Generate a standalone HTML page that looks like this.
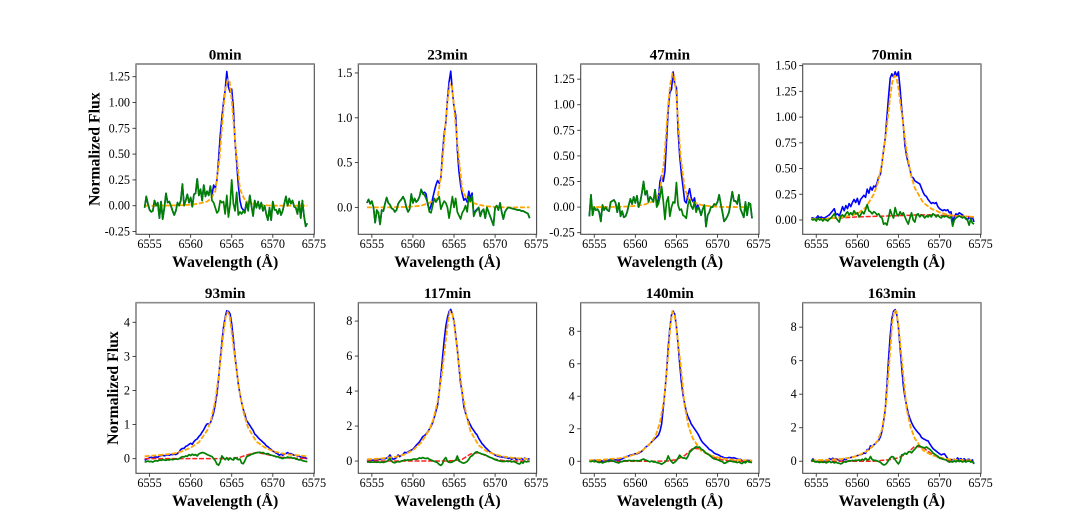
<!DOCTYPE html>
<html lang="en">
<head>
<meta charset="utf-8">
<title>Normalized flux spectra</title>
<style>
html,body{margin:0;padding:0;background:#fff;}
#figure{display:block;width:1090px;height:532px;font-family:"Liberation Serif",serif;filter:blur(0.3px);}
.tick{font-size:12.2px;fill:#000;}
.title{font-size:15.2px;font-weight:bold;fill:#000;text-anchor:middle;}
.xlab{font-size:15.9px;font-weight:bold;fill:#000;text-anchor:middle;}
.ylab{font-size:15.8px;font-weight:bold;fill:#000;text-anchor:middle;}
</style>
</head>
<body>
<svg id="figure" xmlns="http://www.w3.org/2000/svg" width="1090" height="532" viewBox="0 0 1090 532"></svg>
<script>
const panelTitles = ["0min","23min","47min","70min","93min","117min","140min","163min"];
const xTicks = [6555,6560,6565,6570,6575];
const xDomain = [6553.35,6575.05];
const yDomains = [[-0.277,1.373],[-0.3,1.6],[-0.266,1.398],[-0.139,1.516],[-0.43,4.575],[-0.7,9.05],[-0.74,9.76],[-0.72,9.46]];
const yTickLabels = [
 ["-0.25","0.00","0.25","0.50","0.75","1.00","1.25"],
 ["0.0","0.5","1.0","1.5"],
 ["-0.25","0.00","0.25","0.50","0.75","1.00","1.25"],
 ["0.00","0.25","0.50","0.75","1.00","1.25","1.50"],
 ["0","1","2","3","4"],
 ["0","2","4","6","8"],
 ["0","2","4","6","8"],
 ["0","2","4","6","8"]
];
const waveFine = [6554.4,6554.6,6554.8,6555.0,6555.2,6555.4,6555.6,6555.8,6556.0,6556.2,6556.4,6556.6,6556.8,6557.0,6557.2,6557.4,6557.6,6557.8,6558.0,6558.2,6558.4,6558.6,6558.8,6559.0,6559.2,6559.4,6559.6,6559.8,6560.0,6560.2,6560.4,6560.6,6560.8,6561.0,6561.2,6561.4,6561.6,6561.8,6562.0,6562.2,6562.4,6562.6,6562.8,6563.0,6563.2,6563.4,6563.6,6563.8,6564.0,6564.2,6564.4,6564.6,6564.8,6565.0,6565.2,6565.4,6565.6,6565.8,6566.0,6566.2,6566.4,6566.6,6566.8,6567.0,6567.2,6567.4,6567.6,6567.8,6568.0,6568.2,6568.4,6568.6,6568.8,6569.0,6569.2,6569.4,6569.6,6569.8,6570.0,6570.2,6570.4,6570.6,6570.8,6571.0,6571.2,6571.4,6571.6,6571.8,6572.0,6572.2,6572.4,6572.6,6572.8,6573.0,6573.2,6573.4,6573.6,6573.8,6574.0,6574.2];
const waveFit = [6554.4,6556,6558,6559,6560,6561,6562,6562.5,6563,6563.5,6564,6564.25,6564.5,6564.75,6565,6565.5,6566,6566.5,6567,6568,6569,6570,6571,6572,6574.2];
const waveBase = [6554.4,6556,6558,6560,6562,6564,6565,6566,6567,6568,6569,6570,6571,6572,6574.2];

const observed0 = [-.02,.09,.02,-.04,-.06,-.05,.05,0,.03,-.12,.04,-.13,-.02,.12,.03,.04,0,-.05,-.09,-.05,.03,0,.05,.21,0,.05,.11,.03,.08,-.01,.11,.12,.26,.1,.16,.05,.2,.09,.14,.1,.19,.1,.2,.17,.25,.45,.68,.85,1.0,1.12,1.3,1.15,1.1,1.13,.95,.62,.42,.2,.05,-.02,-.04,-.05,.04,-.03,.1,0,-.1,.05,-.02,.04,-.03,.03,-.05,0,-.08,-.14,-.02,-.14,.04,-.04,-.04,-.08,-.03,-.09,-.05,.02,.09,0,.07,.02,.05,-.01,-.02,-.08,.04,-.12,.05,-.1,-.2,-.17];
const residual0 = [-.02,.09,.02,-.04,-.06,-.05,.05,0,.03,-.12,.04,-.13,-.02,.12,.03,.04,0,-.05,-.09,-.05,.03,0,.05,.21,0,.05,.11,.03,.08,-.01,.11,.12,.26,.1,.16,.05,.2,.09,.14,.1,.19,.05,.03,-.02,-.07,-.05,.05,.03,.04,-.08,.1,-.11,.01,.25,.02,-.05,.13,-.09,-.06,-.08,-.05,-.07,.03,-.05,.1,0,-.1,.05,-.02,.04,-.03,.03,-.05,0,-.08,-.14,-.02,-.14,.04,-.04,-.04,-.08,-.03,-.09,-.05,.02,.09,0,.07,.02,.05,-.01,-.02,-.08,.04,-.12,.05,-.1,-.2,-.17];
const fit0 = [0,0,.003,.005,.01,.02,.04,.07,.14,.45,.95,1.14,1.22,1.2,1.02,.55,.16,.07,.03,.01,.005,0,0,0,0];

const observed1 = [.05,.09,.04,.07,0,-.17,-.03,-.06,-.19,-.03,-.04,.04,.11,.05,.03,-.01,-.02,-.05,-.03,.04,.07,.09,.12,.08,0,-.05,-.02,.15,.05,.1,.06,.08,.12,.2,.16,.17,.15,.03,-.03,.02,.1,.18,.25,.3,.27,.33,.6,.82,.95,1.2,1.4,1.52,1.3,1.12,1.03,.65,.4,.25,.15,.08,.1,.06,.18,.1,.16,-.08,-.04,-.02,0,-.1,-.04,-.02,-.12,0,-.05,-.1,-.15,-.2,0,.02,-.03,.05,-.05,-.13,-.05,-.02,0,-.005,-.01,-.015,-.02,-.025,-.03,-.03,-.04,-.04,-.05,-.06,-.07,-.12];
const residual1 = [.05,.09,.04,.07,0,-.17,-.03,-.06,-.19,-.03,-.04,.04,.11,.05,.03,-.01,-.02,-.05,-.03,.04,.07,.09,.12,.08,0,-.05,-.02,.15,.05,.1,.06,.08,.12,.2,.15,.14,.1,.05,-.05,-.06,.02,.1,.06,.09,.12,-.02,.03,.07,.05,0,-.12,0,.12,0,.1,-.05,-.09,-.13,-.06,-.03,.02,-.05,.12,.07,.13,-.1,-.05,-.03,0,-.1,-.04,-.02,-.12,0,-.05,-.1,-.15,-.2,0,.02,-.03,.05,-.05,-.13,-.05,-.02,0,-.005,-.01,-.015,-.02,-.025,-.03,-.03,-.04,-.04,-.05,-.06,-.07,-.12];
const fit1 = [0,0,.003,.005,.01,.02,.05,.08,.1,.42,.98,1.22,1.38,1.36,1.12,.62,.2,.1,.06,.03,.012,.005,0,0,0];

const observed2 = [-.09,.12,-.08,0,-.03,-.02,-.05,-.14,.02,-.03,0,-.03,-.04,.05,.06,.07,.04,-.05,.04,-.09,-.04,-.1,-.09,-.05,.02,.08,.03,.1,.04,.11,0,.05,.14,.25,.12,.16,.05,.1,.08,.06,.17,.02,.08,.25,.31,.25,.35,.65,.95,1.12,1.15,1.32,1.2,1.17,.75,.5,.33,.2,.06,.04,.12,.18,.09,.05,.09,-.02,.02,-.02,-.08,-.02,.02,-.19,-.08,-.05,0,0,.03,.02,.05,.12,.03,-.05,-.14,-.12,-.09,-.05,.05,.15,.06,.06,.03,.12,-.02,-.06,-.1,.05,-.08,.04,.03,-.11];
const residual2 = [-.09,.12,-.08,0,-.03,-.02,-.05,-.14,.02,-.03,0,-.03,-.04,.05,.06,.07,.04,-.05,.04,-.09,-.04,-.1,-.09,-.05,.02,.08,.03,.1,.04,.11,0,.05,.14,.25,.12,.16,.05,.1,.08,.05,.17,0,.03,.1,.2,.06,-.12,.05,.1,-.09,0,.05,.04,.24,.02,-.03,-.02,-.08,-.09,-.11,.02,.07,.01,-.02,.05,-.05,0,-.03,-.08,-.02,.02,-.19,-.08,-.05,0,0,.03,.02,.05,.12,.03,-.05,-.14,-.12,-.09,-.05,.05,.15,.06,.06,.03,.12,-.02,-.06,-.1,.05,-.08,.04,.03,-.11];
const fit2 = [0,0,.003,.006,.012,.022,.05,.08,.16,.45,1.0,1.2,1.3,1.27,1.08,.5,.18,.08,.05,.02,.01,.003,0,0,0];

const observed3 = [.02,.02,.01,.02,.04,.02,.03,.02,.02,.03,.04,.05,.07,.09,.11,.05,.06,.04,.08,.13,.09,.14,.11,.16,.13,.17,.2,.17,.21,.15,.2,.22,.24,.22,.3,.26,.32,.29,.33,.32,.36,.42,.44,.55,.68,.8,1.0,1.2,1.38,1.42,1.39,1.44,1.4,1.44,1.28,1.08,.92,.72,.62,.55,.49,.42,.41,.38,.37,.36,.35,.31,.27,.24,.23,.2,.18,.16,.17,.16,.17,.13,.11,.1,.09,.1,.09,.1,.07,.08,-.02,.03,.06,.05,.07,.06,.05,.03,.02,0,.03,.01,.03,-.02];
const residual3 = [.01,0,.01,-.01,.02,0,.01,-.01,.01,0,-.01,.01,.02,.04,.06,.02,0,-.02,.04,.05,.03,.06,.08,.05,.07,.05,.09,.06,.07,.03,.05,.08,.06,.1,.15,.09,.08,.06,.08,.07,.05,.06,.03,.02,-.04,-.03,-.05,.02,.1,.05,.02,.12,.06,.04,.08,.05,.07,.03,-.01,-.04,.02,.07,0,-.02,.05,.06,.03,.05,.04,.02,.04,.03,.05,.03,.06,.05,.03,.05,.03,.02,.04,.03,.04,.03,.02,.03,-.06,0,.02,.03,.04,.03,.02,.03,.01,0,-.05,.01,-.03,-.04];
const fit3 = [.01,.01,.025,.04,.06,.12,.25,.36,.55,.85,1.2,1.34,1.4,1.39,1.28,.98,.66,.44,.31,.17,.11,.075,.05,.04,.03];
const baseline3 = [.01,.012,.02,.03,.035,.04,.042,.045,.048,.05,.05,.045,.042,.04,.03];

const observed4 = [-.05,-.02,0,.03,.04,.02,.04,.05,.04,.08,.09,.1,.08,.1,.11,.1,.12,.12,.13,.12,.15,.2,.27,.3,.3,.36,.38,.42,.45,.42,.5,.55,.58,.65,.7,.78,.85,.95,1.02,1.02,1.05,1.18,1.35,1.6,1.9,2.35,2.9,3.4,3.85,4.15,4.34,4.32,4.25,3.95,3.5,3.0,2.6,2.2,1.9,1.65,1.45,1.3,1.12,1.05,.98,.9,.83,.72,.68,.62,.57,.53,.48,.44,.38,.35,.3,.27,.22,.2,.16,.14,.1,.13,.1,.13,.15,.18,.14,.15,.12,.1,.1,.08,.07,.05,.05,.03,.02,-.01];
const residual4 = [-.1,-.09,-.07,-.09,-.08,-.1,-.07,-.06,-.07,-.04,-.05,-.03,-.04,-.05,-.03,-.04,-.02,-.03,-.02,-.01,-.02,0,.03,.06,.05,.08,.07,.12,.09,.13,.1,.12,.08,.14,.16,.18,.17,.15,.12,.1,.08,.06,0,-.06,-.16,-.19,-.1,.08,.02,-.03,.03,-.04,.02,-.02,-.04,.03,0,-.03,-.01,-.13,-.15,-.06,.05,.08,.1,.13,.14,.16,.17,.18,.19,.17,.18,.15,.14,.15,.12,.1,.09,.08,.05,.06,.03,.02,0,.03,.02,.05,.03,.04,.01,.02,-.01,-.02,-.04,-.03,-.06,-.07,-.08,-.09];
const fit4 = [.07,.1,.15,.22,.32,.48,.82,1.15,1.7,2.6,3.7,4.15,4.3,4.2,3.7,2.75,1.9,1.3,.9,.5,.33,.22,.16,.12,.07];
const baseline4 = [0,0,0,0,0,0,.01,.04,.12,.18,.14,.08,.04,.02,0];

const observed5 = [.03,.05,.04,.06,.05,.08,.07,.09,.1,.12,.14,.13,.17,.22,.35,.2,.1,.13,.2,.35,.25,.33,.38,.5,.47,.52,.58,.63,.68,.78,.9,1.0,1.1,1.25,1.4,1.45,1.55,1.68,1.82,1.98,2.2,2.5,2.85,3.2,3.95,4.9,5.9,6.9,7.7,8.2,8.55,8.67,8.4,8.0,7.2,6.4,5.4,4.45,3.9,3.1,2.75,2.45,2.25,2.05,1.88,1.75,1.6,1.5,1.3,1.15,1.0,.9,.78,.7,.6,.52,.45,.4,.34,.3,.27,.25,.23,.22,.2,.2,.15,.17,.1,.15,.18,.08,.15,.1,.15,.08,.17,.12,.13,.12];
const residual5 = [-.06,-.05,-.07,-.05,-.06,-.05,-.07,-.05,-.08,-.06,-.08,-.05,-.02,.05,.15,0,-.08,-.1,-.05,-.03,-.05,0,.03,.06,.04,.07,.05,.08,.1,.12,.1,.13,.18,.15,.2,.16,.14,.17,.1,.06,.02,-.02,-.05,-.1,-.2,-.25,-.15,.1,.2,-.02,-.07,-.08,-.05,0,.05,.29,0,-.04,-.1,-.12,-.08,-.02,.1,.25,.3,.4,.5,.53,.47,.44,.4,.38,.35,.3,.25,.2,.18,.12,.08,.05,.02,0,-.02,-.03,-.02,0,-.03,0,-.05,-.02,-.05,-.1,-.15,-.17,-.05,-.12,0,-.05,-.02,-.03];
const fit5 = [.1,.14,.25,.38,.62,1.05,1.8,2.4,3.4,4.9,6.9,7.9,8.55,8.5,7.9,5.9,3.95,2.6,1.7,.9,.55,.38,.26,.19,.11];
const baseline5 = [0,0,0,0,0,0,.03,.1,.4,.48,.28,.1,.03,0,0];

const observed6 = [.05,.06,.04,.07,.03,.05,.02,.04,0,.03,.05,.08,.06,.15,.1,.12,.08,.1,.06,.12,.15,.2,.25,.3,.33,.38,.4,.42,.47,.45,.5,.55,.62,.72,.85,.92,.98,1.1,1.2,1.3,1.4,1.5,1.6,1.85,2.3,3.3,4.3,5.5,7.0,8.2,9.0,9.24,9.05,8.3,7.2,6.0,4.9,4.1,3.55,3.05,2.75,2.55,2.3,2.15,2.0,1.85,1.7,1.5,1.3,1.15,1.05,.95,.85,.73,.68,.6,.5,.45,.42,.37,.3,.27,.22,.2,.2,.24,.22,.2,.22,.18,.15,.1,.12,.03,.05,0,.08,.04,.05,0];
const residual6 = [0,-.02,.02,-.03,0,-.05,-.08,-.05,-.1,-.06,-.03,0,-.02,.08,.02,0,-.05,-.08,-.1,-.03,-.02,.03,.04,.02,.05,.04,.03,.05,.03,.04,.02,.05,.1,.14,.08,.05,0,-.03,.02,-.05,-.03,-.08,-.1,-.13,-.18,-.12,-.05,.05,.33,.1,-.02,-.12,-.05,.05,.2,.38,.25,.2,.2,.15,.3,.55,.65,.75,.82,.9,.85,.88,.75,.7,.6,.5,.45,.38,.3,.2,.15,.12,.1,.05,0,-.02,-.12,-.1,-.03,0,.02,-.02,-.03,-.05,-.08,-.05,-.1,-.14,-.03,-.1,.02,-.04,-.06,-.08];
const fit6 = [.06,.1,.18,.28,.43,.72,1.2,1.6,2.4,3.8,6.6,8.3,9.2,9.1,8.2,6.0,3.4,2.1,1.4,.65,.38,.24,.14,.1,.04];
const baseline6 = [0,0,0,0,0,.02,.1,.35,.8,.75,.4,.15,.05,.01,0];

const observed7 = [.03,.14,0,-.02,0,-.03,.02,-.02,0,-.05,.02,.16,.1,.18,.12,.15,.1,.05,0,.02,.12,.1,.17,.2,.22,.25,.27,.3,.34,.36,.4,.42,.5,.47,.7,.68,.92,.85,.98,1.05,1.18,1.25,1.45,1.8,2.4,3.1,4.5,6.1,7.5,8.5,8.95,9.05,8.75,8.0,6.8,5.6,4.5,3.8,3.3,2.85,2.55,2.3,2.1,1.95,1.82,1.7,1.6,1.42,1.35,1.3,1.24,1.22,1.05,.9,.76,.68,.6,.52,.45,.38,.42,.44,.3,.15,.08,.1,.08,.12,.06,.2,.08,.16,.06,.15,.05,.1,.12,.02,.08,-.15];
const residual7 = [-.02,.08,-.03,-.05,-.03,-.08,-.03,-.07,-.04,-.1,-.05,0,-.08,-.04,-.1,-.06,-.1,-.12,-.16,-.1,-.02,-.06,0,.03,.02,.05,.03,.06,.05,.08,.05,.12,.06,.18,.08,.1,.28,.1,.06,.05,.03,-.02,-.06,-.15,-.22,-.2,-.1,.05,.2,.28,.25,.1,-.05,-.16,0,.38,.4,.48,.42,.55,.58,.5,.62,.72,.85,.94,.9,.85,.82,.8,.85,.78,.72,.62,.5,.42,.35,.3,.18,.18,.12,.1,.08,0,-.05,-.02,-.05,.02,-.04,.05,-.02,.03,-.05,.02,-.05,0,.02,-.05,-.02,-.16];
const fit7 = [.05,.08,.13,.2,.32,.55,.95,1.25,1.9,3.5,6.6,8.3,9.0,8.95,8.1,5.6,3.1,2.0,1.35,.65,.38,.22,.13,.09,.04];
const baseline7 = [0,0,0,0,0,.1,.2,.45,.9,.82,.45,.18,.06,.02,0];

const observedSeries = [observed0,observed1,observed2,observed3,observed4,observed5,observed6,observed7];
const residualSeries = [residual0,residual1,residual2,residual3,residual4,residual5,residual6,residual7];
const fitSeries = [fit0,fit1,fit2,fit3,fit4,fit5,fit6,fit7];
const baselineSeries = [null,null,null,baseline3,baseline4,baseline5,baseline6,baseline7];

const SVG_NS = "http://www.w3.org/2000/svg";
const root = document.getElementById("figure");
const axesLeft = [136,358.3,580.7,802.7];
const axesWidth = 178.3;
const rowTop = [64,302.7];
const rowBottom = [234.3,473.3];

function make(parent, tag, props, text){
  const el = document.createElementNS(SVG_NS, tag);
  for (const k in props) el.setAttribute(k, props[k]);
  if (text !== undefined) el.textContent = text;
  parent.appendChild(el);
  return el;
}
function pathFrom(xs, ys, sx, sy){
  let d = "";
  for (let i = 0; i < ys.length; i++){
    d += (i ? "L" : "M") + sx(xs[i]).toFixed(2) + " " + sy(ys[i]).toFixed(2);
  }
  return d;
}

panelTitles.forEach(function(title, p){
  const col = p % 4, row = p < 4 ? 0 : 1;
  const L = axesLeft[col], R = L + axesWidth, T = rowTop[row], B = rowBottom[row];
  const dom = yDomains[p];
  const sx = function(v){ return L + (v - xDomain[0]) / (xDomain[1] - xDomain[0]) * (R - L); };
  const sy = function(v){ return B - (v - dom[0]) / (dom[1] - dom[0]) * (B - T); };

  const g = make(root, "g", {});
  
  

  const blue = make(g, "path", {d: pathFrom(waveFine, observedSeries[p], sx, sy), fill:"none", stroke:"#0000ff", "stroke-width":1.6, "stroke-linejoin":"round"});
  
  

  if (baselineSeries[p]){
    const red = make(g, "path", {d: pathFrom(waveBase, baselineSeries[p], sx, sy), fill:"none", stroke:"#ff2020", "stroke-width":1.5, "stroke-dasharray":"5 1.8"});
    
    
  }

  const orange = make(g, "path", {d: pathFrom(waveFit, fitSeries[p], sx, sy), fill:"none", stroke:"#ffa500", "stroke-width":1.8, "stroke-dasharray":"5 1.8"});
  
  

  const green = make(g, "path", {d: pathFrom(waveFine, residualSeries[p], sx, sy), fill:"none", stroke:"#008000", "stroke-width":1.7, "stroke-linejoin":"round"});
  
  

  const frame = make(g, "rect", {x:L, y:T, width:R-L, height:B-T, fill:"none", stroke:"#4a4a4a", "stroke-width":1.1});
  
  

  const topSpine = make(g, "line", {x1:L, x2:R, y1:T, y2:T, stroke:"#8c8c8c", "stroke-width":1.7});
  
  

  xTicks.forEach(function(t){
    const x = sx(t);
    const tick = make(g, "line", {x1:x, x2:x, y1:B, y2:B+3.5, stroke:"#333", "stroke-width":0.9});
    
    
    const label = make(g, "text", {x:x, y:row ? 487 : 248, "text-anchor":"middle", "class":"tick"}, String(t));
    
    
  });

  yTickLabels[p].forEach(function(t){
    const y = sy(parseFloat(t));
    const tick = make(g, "line", {x1:L-3.5, x2:L, y1:y, y2:y, stroke:"#333", "stroke-width":0.9});
    
    
    const label = make(g, "text", {x:L-6, y:y+4, "text-anchor":"end", "class":"tick"}, t);
    
    
  });

  const titleEl = make(g, "text", {x:(L+R)/2, y:row ? 298 : 59.3, "class":"title"}, title);
  
  

  const xlab = make(g, "text", {x:(L+R)/2, y:row ? 506 : 267, "class":"xlab"}, "Wavelength (Å)");
  
  

  if (col === 0){
    const lx = row ? 118 : 99.5, ly = (T + B) / 2;
    const ylab = make(g, "text", {x:lx, y:ly, "class":"ylab", transform:"rotate(-90 " + lx + " " + ly + ")"}, "Normalized Flux");
    
    
  }
});
</script>
</body>
</html>
